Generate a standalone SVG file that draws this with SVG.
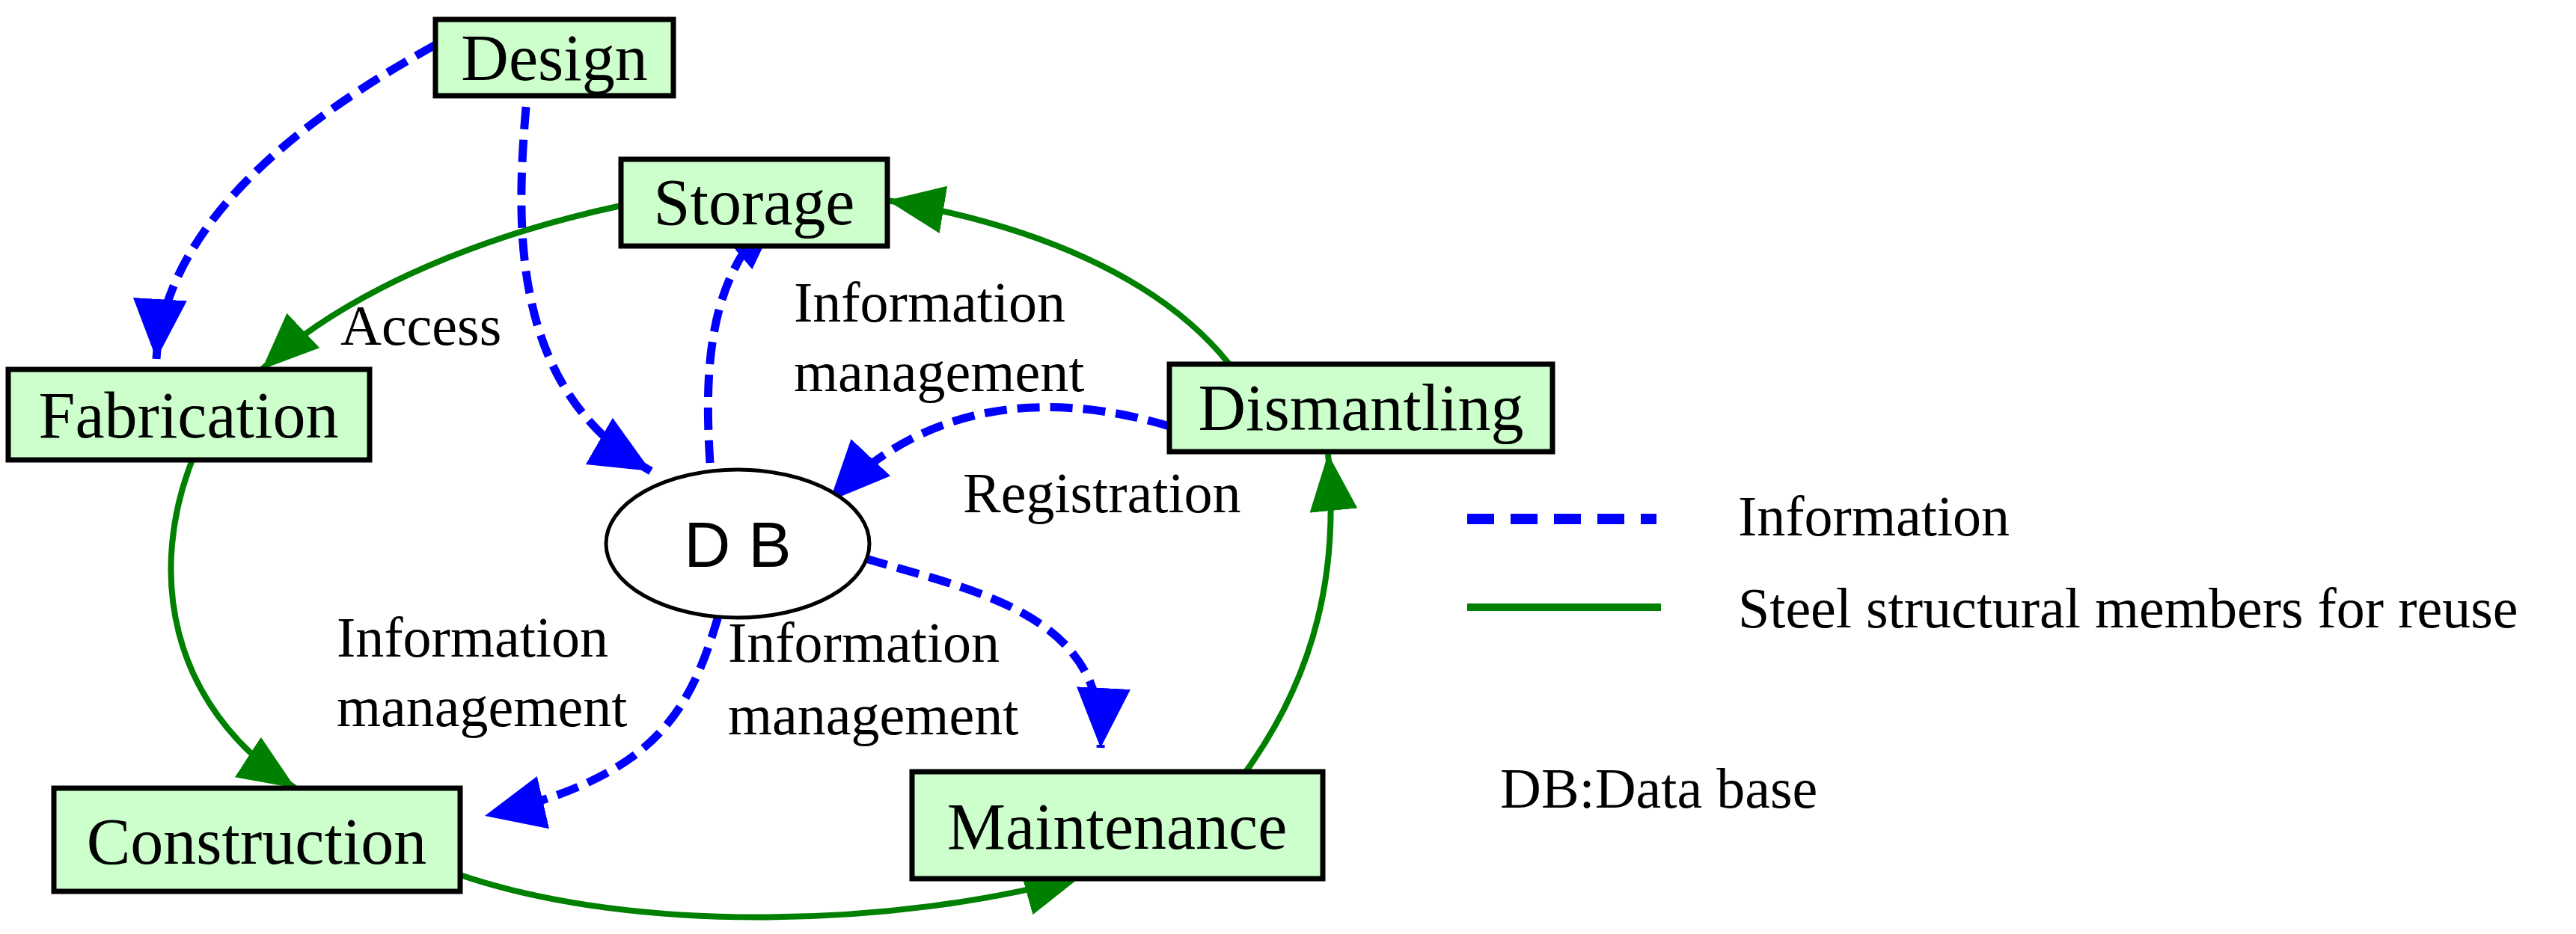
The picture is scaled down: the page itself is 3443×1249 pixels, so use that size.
<svg xmlns="http://www.w3.org/2000/svg" width="3443" height="1249" viewBox="0 0 3443 1249">
<defs>
<style>
.box{fill:#ccffcc;stroke:#000;stroke-width:7}
.nt{font-family:"Liberation Serif",serif;font-size:88px;text-anchor:middle;fill:#000}
.lb{font-family:"Liberation Serif",serif;font-size:76px;fill:#000}
.g{fill:none;stroke:#008000;stroke-width:8}
.b{fill:none;stroke:#0000ff;stroke-width:11;stroke-dasharray:30,14}
</style>
<marker id="ag" markerUnits="userSpaceOnUse" markerWidth="90" markerHeight="70" refX="76" refY="32" orient="auto"><path d="M0,0 L76,32 L0,64 z" fill="#008000"/></marker>
<marker id="ab" markerUnits="userSpaceOnUse" markerWidth="90" markerHeight="80" refX="80" refY="36" orient="auto"><path d="M0,0 L80,36 L0,72 z" fill="#0000ff"/></marker>
</defs>
<rect width="3443" height="1249" fill="#fff"/>
<g id="connectors">
<path class="g" d="M830,275 C620,320 450,400 350,494" marker-end="url(#ag)"/>
<path class="g" d="M257,615 C200,760 220,940 395,1054" marker-end="url(#ag)"/>
<path class="g" d="M615,1170 C850,1250 1200,1240 1445,1172" marker-end="url(#ag)"/>
<path class="g" d="M1665,1032 C1760,900 1790,760 1775,607" marker-end="url(#ag)"/>
<path class="g" d="M1643,487 C1550,370 1380,300 1186,268" marker-end="url(#ag)"/>
<path class="b" d="M582,60 C400,160 220,300 209,480" marker-end="url(#ab)"/>
<path class="b" d="M703,143 C690,300 680,520 870,630" marker-end="url(#ab)"/>
<path class="b" d="M949,619 C940,480 950,360 1043,281" marker-end="url(#ab)"/>
<path class="b" d="M1563,570 C1430,530 1250,520 1109,670" marker-end="url(#ab)"/>
<path class="b" d="M960,824 C920,960 870,1040 648,1091" marker-end="url(#ab)"/>
<path class="b" d="M1157,747 C1300,790 1480,820 1471,1000" marker-end="url(#ab)"/>
</g>
<g id="design"><rect class="box" x="582" y="26" width="318" height="102"/><text class="nt" x="741" y="107">Design</text></g>
<g id="storage"><rect class="box" x="830" y="213" width="356" height="116"/><text class="nt" x="1008" y="300">Storage</text></g>
<g id="fabrication"><rect class="box" x="11" y="494" width="483" height="121"/><text class="nt" x="252" y="585">Fabrication</text></g>
<g id="dismantling"><rect class="box" x="1563" y="487" width="512" height="117"/><text class="nt" x="1819" y="575">Dismantling</text></g>
<g id="db"><ellipse cx="986" cy="727" rx="176" ry="99" fill="#fff" stroke="#000" stroke-width="5"/><text x="986" y="758" font-family="Liberation Sans,sans-serif" font-size="86" text-anchor="middle">D B</text></g>
<g id="construction"><rect class="box" x="72" y="1054" width="543" height="138"/><text class="nt" x="343" y="1155">Construction</text></g>
<g id="maintenance"><rect class="box" x="1219" y="1032" width="549" height="143"/><text class="nt" x="1493" y="1135">Maintenance</text></g>
<g id="labels">
<text class="lb" x="455" y="461">Access</text>
<text class="lb" x="1061" y="430">Information</text>
<text class="lb" x="1061" y="523">management</text>
<text class="lb" x="1287" y="685">Registration</text>
<text class="lb" x="450" y="878">Information</text>
<text class="lb" x="450" y="971">management</text>
<text class="lb" x="973" y="885">Information</text>
<text class="lb" x="973" y="982">management</text>
</g>
<g id="legend">
<line x1="1961" y1="694" x2="2214" y2="694" stroke="#0000ff" stroke-width="14" stroke-dasharray="36,22"/>
<text class="lb" x="2323" y="716">Information</text>
<line x1="1961" y1="812" x2="2220" y2="812" stroke="#008000" stroke-width="10"/>
<text class="lb" x="2323" y="839">Steel structural members for reuse</text>
<text class="lb" x="2005" y="1080">DB:Data base</text>
</g>
</svg>
